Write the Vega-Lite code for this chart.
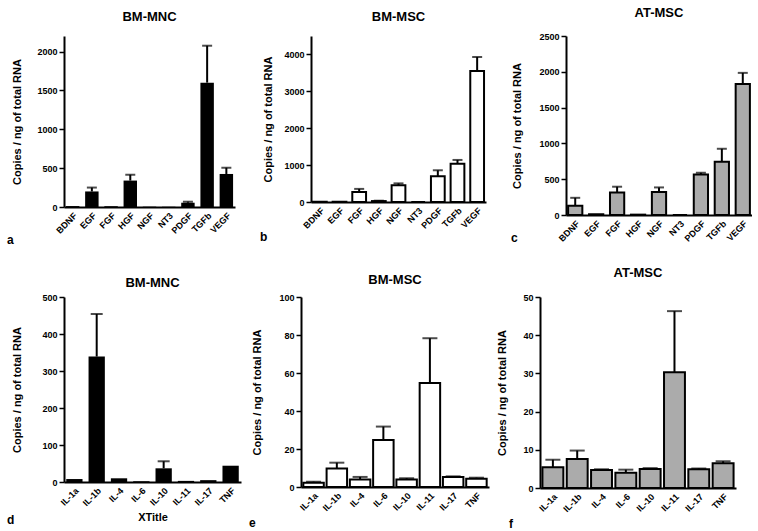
{
  "$schema": "https://vega.github.io/schema/vega-lite/v6.json",
  "background": "white",
  "padding": {"left": 6, "top": 7, "right": 0, "bottom": 0},
  "spacing": 20,
  "config": {
    "font": "Liberation Sans",
    "view": {"stroke": null},
    "axis": {"labelFont": "Liberation Sans", "labelFontWeight": "bold", "labelFontSize": 9, "labelColor": "black", "titleFont": "Liberation Sans", "titleFontWeight": "bold", "titleFontSize": 11, "titleColor": "black", "domainColor": "black", "domainWidth": 2, "tickColor": "black", "tickWidth": 1.5, "tickSize": 5, "labelPadding": 2, "grid": false, "labelOverlap": false},
    "axisX": {"labelAngle": -45, "ticks": false, "labelPadding": 4},
    "axisY": {"format": "d", "titlePadding": 14},
    "title": {"font": "Liberation Sans", "fontSize": 13, "fontWeight": "bold", "color": "black", "offset": 12},
    "bar": {"color": "black"}
  },
  "datasets": {
    "a": [
      {"cat": "BDNF", "val": 12, "err": null},
      {"cat": "EGF", "val": 200, "err": 250},
      {"cat": "FGF", "val": 10, "err": null},
      {"cat": "HGF", "val": 340, "err": 415},
      {"cat": "NGF", "val": 4, "err": null},
      {"cat": "NT3", "val": 3, "err": null},
      {"cat": "PDGF", "val": 55, "err": 68},
      {"cat": "TGFb", "val": 1600, "err": 2075},
      {"cat": "VEGF", "val": 425, "err": 505}
    ],
    "b": [
      {"cat": "BDNF", "val": 5, "err": null},
      {"cat": "EGF", "val": 5, "err": null},
      {"cat": "FGF", "val": 270, "err": 355},
      {"cat": "HGF", "val": 25, "err": 35},
      {"cat": "NGF", "val": 455, "err": 505},
      {"cat": "NT3", "val": 0, "err": null},
      {"cat": "PDGF", "val": 700, "err": 860},
      {"cat": "TGFb", "val": 1040, "err": 1140},
      {"cat": "VEGF", "val": 3550, "err": 3930}
    ],
    "c": [
      {"cat": "BDNF", "val": 130, "err": 240},
      {"cat": "EGF", "val": 10, "err": null},
      {"cat": "FGF", "val": 315, "err": 395},
      {"cat": "HGF", "val": 5, "err": null},
      {"cat": "NGF", "val": 320, "err": 385},
      {"cat": "NT3", "val": 0, "err": null},
      {"cat": "PDGF", "val": 565, "err": 590},
      {"cat": "TGFb", "val": 745, "err": 925},
      {"cat": "VEGF", "val": 1830, "err": 1985}
    ],
    "d": [
      {"cat": "IL-1a", "val": 8, "err": null},
      {"cat": "IL-1b", "val": 339, "err": 454},
      {"cat": "IL-4", "val": 10, "err": null},
      {"cat": "IL-6", "val": 2, "err": null},
      {"cat": "IL-10", "val": 37, "err": 56},
      {"cat": "IL-11", "val": 3, "err": null},
      {"cat": "IL-17", "val": 5, "err": null},
      {"cat": "TNF", "val": 44, "err": null}
    ],
    "e": [
      {"cat": "IL-1a", "val": 2.3, "err": 2.8},
      {"cat": "IL-1b", "val": 9.8, "err": 12.8},
      {"cat": "IL-4", "val": 3.9, "err": 5.3},
      {"cat": "IL-6", "val": 24.7, "err": 31.8},
      {"cat": "IL-10", "val": 3.9, "err": 4.6},
      {"cat": "IL-11", "val": 54.7, "err": 78.3},
      {"cat": "IL-17", "val": 5.3, "err": 5.6},
      {"cat": "TNF", "val": 4.4, "err": 4.9}
    ],
    "f": [
      {"cat": "IL-1a", "val": 5.4, "err": 7.4},
      {"cat": "IL-1b", "val": 7.6, "err": 9.8},
      {"cat": "IL-4", "val": 4.7, "err": 4.9},
      {"cat": "IL-6", "val": 4.0, "err": 4.8},
      {"cat": "IL-10", "val": 5.0, "err": 5.2},
      {"cat": "IL-11", "val": 30.3, "err": 46.3},
      {"cat": "IL-17", "val": 4.9, "err": 5.1},
      {"cat": "TNF", "val": 6.5, "err": 7.0}
    ]
  },
  "vconcat": [
    {
      "spacing": 24,
      "hconcat": [
        {
          "title": {"text": "a", "orient": "bottom", "anchor": "start", "fontSize": 12, "offset": 0, "dx": -5},
          "vconcat": [{
            "title": {"text": "BM-MNC", "offset": 12},
            "width": 171, "height": 171,
            "data": {"name": "a"},
            "encoding": {
              "x": {"field": "cat", "type": "nominal", "sort": null, "title": null, "scale": {"paddingInner": 0.3, "paddingOuter": 0.1}},
              "y": {"field": "val", "type": "quantitative", "scale": {"domain": [0, 2200], "nice": false}, "axis": {"title": "Copies / ng of total RNA", "values": [0, 500, 1000, 1500, 2000]}}
            },
            "layer": [
              {"mark": {"type": "bar", "color": "black"}},
              {"transform": [{"filter": "datum.err != null"}], "mark": {"type": "rule", "strokeWidth": 2, "color": "black"}, "encoding": {"y2": {"field": "err"}}},
              {"transform": [{"filter": "datum.err != null"}], "mark": {"type": "tick", "color": "black", "thickness": 2, "size": 10}, "encoding": {"y": {"field": "err", "type": "quantitative", "axis": {"title": "Copies / ng of total RNA", "values": [0, 500, 1000, 1500, 2000]}}}}
            ]
          }]
        },
        {
          "title": {"text": "b", "orient": "bottom", "anchor": "start", "fontSize": 12, "offset": 2, "dx": -3},
          "vconcat": [{
            "title": {"text": "BM-MSC", "offset": 12},
            "width": 175, "height": 166,
            "data": {"name": "b"},
            "encoding": {
              "x": {"field": "cat", "type": "nominal", "sort": null, "title": null, "scale": {"paddingInner": 0.3, "paddingOuter": 0.1}},
              "y": {"field": "val", "type": "quantitative", "scale": {"domain": [0, 4500], "nice": false}, "axis": {"title": "Copies / ng of total RNA", "titlePadding": 10, "values": [0, 1000, 2000, 3000, 4000]}}
            },
            "layer": [
              {"mark": {"type": "bar", "fill": "white", "stroke": "black", "strokeWidth": 2}},
              {"transform": [{"filter": "datum.err != null"}], "mark": {"type": "rule", "strokeWidth": 2, "color": "black"}, "encoding": {"y2": {"field": "err"}}},
              {"transform": [{"filter": "datum.err != null"}], "mark": {"type": "tick", "color": "black", "thickness": 2, "size": 10}, "encoding": {"y": {"field": "err", "type": "quantitative", "axis": {"title": "Copies / ng of total RNA", "titlePadding": 10, "values": [0, 1000, 2000, 3000, 4000]}}}}
            ]
          }]
        },
        {
          "title": {"text": "c", "orient": "bottom", "anchor": "start", "fontSize": 12, "offset": -10, "dx": -1},
          "vconcat": [{
            "title": {"text": "AT-MSC", "offset": 12},
            "width": 186, "height": 179,
            "data": {"name": "c"},
            "encoding": {
              "x": {"field": "cat", "type": "nominal", "sort": null, "title": null, "scale": {"paddingInner": 0.32, "paddingOuter": 0.1}},
              "y": {"field": "val", "type": "quantitative", "scale": {"domain": [0, 2500], "nice": false}, "axis": {"title": "Copies / ng of total RNA", "titlePadding": 16, "values": [0, 500, 1000, 1500, 2000, 2500]}}
            },
            "layer": [
              {"mark": {"type": "bar", "fill": "#ababab", "stroke": "black", "strokeWidth": 2}},
              {"transform": [{"filter": "datum.err != null"}], "mark": {"type": "rule", "strokeWidth": 2, "color": "black"}, "encoding": {"y2": {"field": "err"}}},
              {"transform": [{"filter": "datum.err != null"}], "mark": {"type": "tick", "color": "black", "thickness": 2, "size": 10}, "encoding": {"y": {"field": "err", "type": "quantitative", "axis": {"title": "Copies / ng of total RNA", "titlePadding": 16, "values": [0, 500, 1000, 1500, 2000, 2500]}}}}
            ]
          }]
        }
      ]
    },
    {
      "spacing": 7,
      "hconcat": [
        {
          "title": {"text": "d", "orient": "bottom", "anchor": "start", "fontSize": 12, "offset": -8, "dx": -5},
          "vconcat": [{
            "title": {"text": "BM-MNC", "offset": 3},
            "width": 177, "height": 185,
            "data": {"name": "d"},
            "encoding": {
              "x": {"field": "cat", "type": "nominal", "sort": null, "title": "XTitle", "scale": {"paddingInner": 0.27, "paddingOuter": 0.1}},
              "y": {"field": "val", "type": "quantitative", "scale": {"domain": [0, 500], "nice": false}, "axis": {"title": "Copies / ng of total RNA", "titlePadding": 19, "values": [0, 100, 200, 300, 400, 500]}}
            },
            "layer": [
              {"mark": {"type": "bar", "color": "black"}},
              {"transform": [{"filter": "datum.err != null"}], "mark": {"type": "rule", "strokeWidth": 2, "color": "black"}, "encoding": {"y2": {"field": "err"}}},
              {"transform": [{"filter": "datum.err != null"}], "mark": {"type": "tick", "color": "black", "thickness": 2, "size": 12}, "encoding": {"y": {"field": "err", "type": "quantitative", "axis": {"title": "Copies / ng of total RNA", "titlePadding": 19, "values": [0, 100, 200, 300, 400, 500]}}}}
            ]
          }]
        },
        {
          "title": {"text": "e", "orient": "bottom", "anchor": "start", "fontSize": 12, "offset": 5, "dx": -3},
          "vconcat": [{
            "title": {"text": "BM-MSC", "offset": 6},
            "width": 188, "height": 190,
            "data": {"name": "e"},
            "encoding": {
              "x": {"field": "cat", "type": "nominal", "sort": null, "title": null, "scale": {"paddingInner": 0.12, "paddingOuter": 0.1}},
              "y": {"field": "val", "type": "quantitative", "scale": {"domain": [0, 100], "nice": false}, "axis": {"title": "Copies / ng of total RNA", "titlePadding": 16, "values": [0, 20, 40, 60, 80, 100]}}
            },
            "layer": [
              {"mark": {"type": "bar", "fill": "white", "stroke": "black", "strokeWidth": 2}},
              {"transform": [{"filter": "datum.err != null"}], "mark": {"type": "rule", "strokeWidth": 2, "color": "black"}, "encoding": {"y2": {"field": "err"}}},
              {"transform": [{"filter": "datum.err != null"}], "mark": {"type": "tick", "color": "black", "thickness": 2, "size": 15}, "encoding": {"y": {"field": "err", "type": "quantitative", "axis": {"title": "Copies / ng of total RNA", "titlePadding": 16, "values": [0, 20, 40, 60, 80, 100]}}}}
            ]
          }]
        },
        {
          "title": {"text": "f", "orient": "bottom", "anchor": "start", "fontSize": 12, "offset": 5, "dx": 12},
          "vconcat": [{
            "title": {"text": "AT-MSC", "offset": 13},
            "width": 196, "height": 191,
            "data": {"name": "f"},
            "encoding": {
              "x": {"field": "cat", "type": "nominal", "sort": null, "title": null, "scale": {"paddingInner": 0.14, "paddingOuter": 0.1}},
              "y": {"field": "val", "type": "quantitative", "scale": {"domain": [0, 50], "nice": false}, "axis": {"title": "Copies / ng of total RNA", "titlePadding": 15, "values": [0, 10, 20, 30, 40, 50]}}
            },
            "layer": [
              {"mark": {"type": "bar", "fill": "#ababab", "stroke": "black", "strokeWidth": 2}},
              {"transform": [{"filter": "datum.err != null"}], "mark": {"type": "rule", "strokeWidth": 2, "color": "black"}, "encoding": {"y2": {"field": "err"}}},
              {"transform": [{"filter": "datum.err != null"}], "mark": {"type": "tick", "color": "black", "thickness": 2, "size": 15}, "encoding": {"y": {"field": "err", "type": "quantitative", "axis": {"title": "Copies / ng of total RNA", "titlePadding": 15, "values": [0, 10, 20, 30, 40, 50]}}}}
            ]
          }]
        }
      ]
    }
  ]
}
